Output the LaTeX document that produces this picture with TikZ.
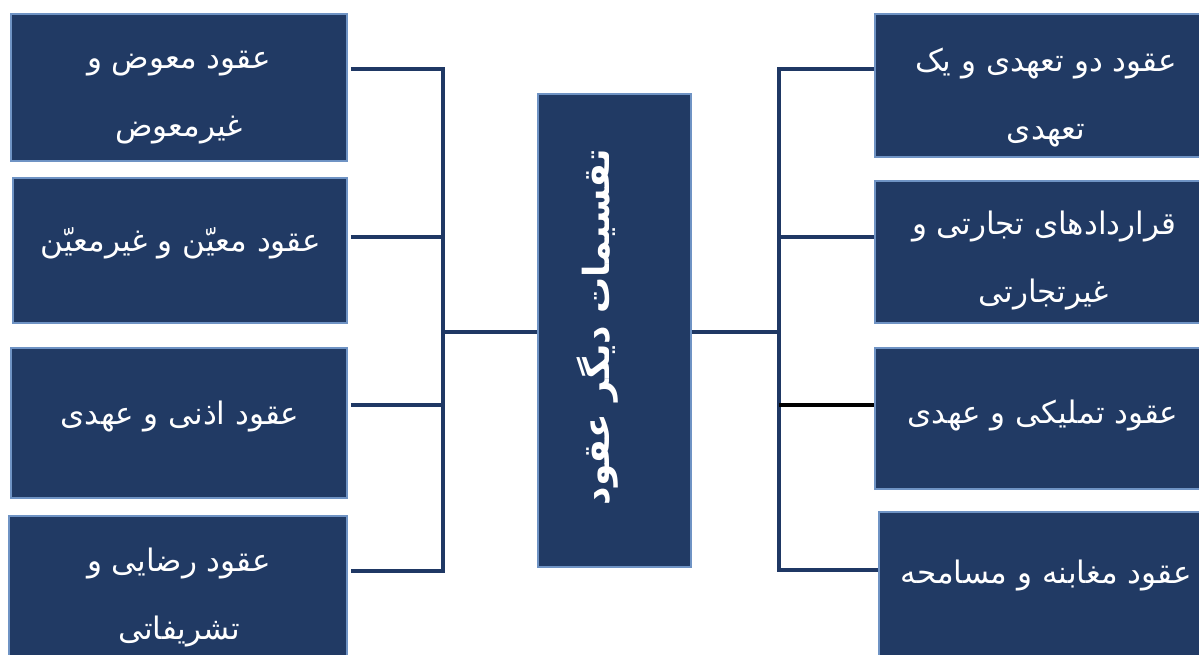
\documentclass[tikz,border=0pt]{standalone}
\usepackage{fontspec}
\TeXXeTstate=1
\newfontfamily\arabicfont[Script=Arabic]{DejaVu Sans}
\definecolor{navy}{HTML}{213A64}
\definecolor{edgeblue}{HTML}{6F93C4}
\definecolor{wirecol}{HTML}{1F3864}
\begin{document}
\begin{tikzpicture}[x=1pt,y=-1pt,
  box/.style={draw=edgeblue, line width=1.6pt, fill=navy, inner sep=0pt, minimum width=336pt},
  wire/.style={draw=wirecol, line width=3.2pt, line join=miter},
  lbl/.style={text=white, font=\arabicfont\fontsize{31}{68}\selectfont, align=center, inner sep=0pt},
  ctitle/.style={text=white, font=\arabicfont\bfseries\fontsize{36}{40}\selectfont, inner sep=0pt}]
\useasboundingbox (0,0) rectangle (1199,654);
\clip (0,0) rectangle (1199,654);
\fill[white] (0,0) rectangle (1199,654);

% boxes
\node[box, minimum height=147pt] (l1) at (179,87.5) {};
\node[box, minimum width=334pt, minimum height=145pt] (l2) at (180,250.5) {};
\node[box, minimum height=150pt] (l3) at (179,423) {};
\node[box, minimum width=338pt, minimum height=148pt] (l4) at (178,590) {};
\node[box, minimum width=153pt, minimum height=473pt] (c) at (614.5,330.5) {};
\node[box, minimum height=143pt] (r1) at (1043,85.5) {};
\node[box, minimum height=142pt] (r2) at (1043,252) {};
\node[box, minimum height=141pt] (r3) at (1043,418.5) {};
\node[box, minimum height=148pt] (r4) at (1047,586) {};

% texts
\node[lbl] (t-l1) at (179,98) {\beginR عقود معوض و\endR\\\beginR غیرمعوض\endR};
\node[lbl] (t-l2) at (181,243) {\beginR عقود معیّن و غیرمعیّن\endR};
\node[lbl] (t-l3) at (180,416) {\beginR عقود اذنی و عهدی\endR};
\node[lbl] (t-l4) at (179,597) {\beginR عقود رضایی و\endR\\\beginR تشریفاتی\endR};
\node[lbl] (t-r1) at (1046,97) {\beginR عقود دو تعهدی و یک\endR\\\beginR تعهدی\endR};
\node[lbl] (t-r2) at (1044,261) {\beginR قراردادهای تجارتی و\endR\\\beginR غیرتجارتی\endR};
\node[lbl] (t-r3) at (1043,415) {\beginR عقود تملیکی و عهدی\endR};
\node[lbl] (t-r4) at (1046,575) {\beginR عقود مغابنه و مسامحه\endR};
\node[ctitle, rotate=90] (t-c) at (598,327) {\beginR تقسیمات دیگر عقود\endR};

% bus coordinates
\coordinate (lb1) at (443,69);
\coordinate (lb2) at (443,237);
\coordinate (lb3) at (443,405);
\coordinate (lb4) at (443,571);
\coordinate (lbc) at (443,332);
\coordinate (rb1) at (779,69);
\coordinate (rb2) at (779,237);
\coordinate (rb3) at (779,405);
\coordinate (rb4) at (779,570);
\coordinate (rbc) at (779,332);

% left connectors
\draw[wire, shorten <=3pt] (l1.east |- lb1) -- (lb1) -- (lb4) -- ([xshift=3pt]l4.east |- lb4);
\draw[wire, shorten <=3pt] (l2.east |- lb2) -- (lb2);
\draw[wire, shorten <=3pt] (l3.east |- lb3) -- (lb3);
\draw[wire] (lbc) -- (c.west |- lbc);

% right connectors
\draw[wire] (r1.west |- rb1) -- (rb1) -- (rb4) -- (r4.west |- rb4);
\draw[wire] (rb2) -- (r2.west |- rb2);
\draw[wire, draw=black, line width=3.6pt] (rb3) -- (r3.west |- rb3);
\draw[wire] (c.east |- rbc) -- (rbc);
\end{tikzpicture}
\end{document}
